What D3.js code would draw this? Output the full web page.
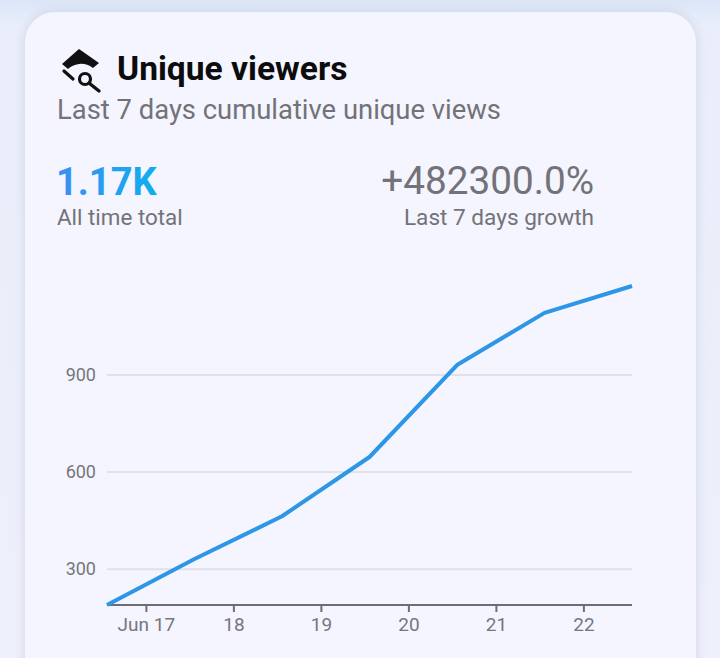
<!DOCTYPE html>
<html>
<head>
<meta charset="utf-8">
<script src="https://cdn.jsdelivr.net/npm/d3@7"></script>
<style>
  html, body { margin: 0; padding: 0; background: #eef0fb; }
  svg { display: block; font-family: Roboto, "Noto Sans", sans-serif; }
</style>
</head>
<body>
<script>
// data
var dates = ["2024-06-16T13:20", "2024-06-17T13:20", "2024-06-18T13:20", "2024-06-19T13:20",
             "2024-06-20T13:20", "2024-06-21T13:20", "2024-06-22T13:20"];
var viewers = [188, 330, 462, 645, 929, 1090, 1173];
var yTicks = [300, 600, 900];
var title = "Unique viewers";
var subtitle = "Last 7 days cumulative unique views";
var totalLabel = "1.17K", totalCaption = "All time total";
var growthLabel = "+482300.0%", growthCaption = "Last 7 days growth";

var parse = d3.timeParse("%Y-%m-%dT%H:%M");
var data = dates.map((d, i) => ({date: parse(d), value: viewers[i]}));

var width = 720, height = 658;
var margin = {top: 286, right: 88, bottom: 53, left: 107};

const svg = d3.select("body").append("svg")
    .attr("width", width)
    .attr("height", height);

var defs = svg.append("defs");
var bgGrad = defs.append("linearGradient").attr("id", "bg").attr("x1", 0).attr("y1", 0).attr("x2", 0).attr("y2", 1);
bgGrad.append("stop").attr("offset", "0").attr("stop-color", "#dbe6f7");
bgGrad.append("stop").attr("offset", "0.04").attr("stop-color", "#eaeefa");
bgGrad.append("stop").attr("offset", "1").attr("stop-color", "#eef0fb");
var numGrad = defs.append("linearGradient").attr("id", "num").attr("x1", 0).attr("y1", 0).attr("x2", 1).attr("y2", 0);
numGrad.append("stop").attr("offset", "0").attr("stop-color", "#3d8ef2");
numGrad.append("stop").attr("offset", "1").attr("stop-color", "#10aeec");
var shadow = defs.append("filter").attr("id", "shadow").attr("x", "-10%").attr("y", "-10%").attr("width", "120%").attr("height", "120%");
shadow.append("feDropShadow").attr("dx", 0).attr("dy", 0).attr("stdDeviation", 6)
    .attr("flood-color", "#b8bdd6").attr("flood-opacity", 0.55);

svg.append("rect").attr("width", width).attr("height", height).attr("fill", "url(#bg)");

// card
svg.append("rect")
    .attr("x", 25).attr("y", 12)
    .attr("width", 671).attr("height", 700)
    .attr("rx", 30)
    .attr("fill", "#f4f5fe")
    .attr("filter", "url(#shadow)");

// header icon
var icon = svg.append("g").attr("fill", "#111").attr("stroke", "#111");
icon.append("path")
    .attr("stroke", "none")
    .attr("d", "M79,49 L99,63 L93,68 Q86,63 79,64 Q72,65 68,69 L62,64 Z");
icon.append("line").attr("x1", 64).attr("y1", 71).attr("x2", 73).attr("y2", 79)
    .attr("stroke-width", 3.2).attr("stroke-linecap", "round");
icon.append("circle").attr("cx", 85).attr("cy", 79).attr("r", 5.5)
    .attr("fill", "none").attr("stroke-width", 3.2);
icon.append("line").attr("x1", 89).attr("y1", 83).attr("x2", 99).attr("y2", 91)
    .attr("stroke-width", 3.4).attr("stroke-linecap", "round");

svg.append("text").attr("x", 117).attr("y", 80)
    .attr("font-size", 33.6).attr("font-weight", 700).attr("fill", "#0c0c0c")
    .text(title);
svg.append("text").attr("x", 57).attr("y", 119)
    .attr("font-size", 27.4).attr("fill", "#737279")
    .text(subtitle);

svg.append("text").attr("x", 56).attr("y", 195)
    .attr("font-size", 38).attr("font-weight", 700).attr("fill", "url(#num)")
    .text(totalLabel);
svg.append("text").attr("x", 57).attr("y", 225)
    .attr("font-size", 22.4).attr("fill", "#737279")
    .text(totalCaption);
svg.append("text").attr("x", 594).attr("y", 194)
    .attr("text-anchor", "end")
    .attr("font-size", 38.7).attr("fill", "#737279")
    .text(growthLabel);
svg.append("text").attr("x", 594).attr("y", 225)
    .attr("text-anchor", "end")
    .attr("font-size", 22.6).attr("fill", "#737279")
    .text(growthCaption);

// scales
var xScale = d3.scaleTime()
    .domain(d3.extent(data, d => d.date))
    .range([margin.left, width - margin.right]);
var yScale = d3.scaleLinear()
    .domain(d3.extent(data, d => d.value))
    .range([height - margin.bottom, margin.top]);

// grid + y labels
var yAxis = g => g
    .attr("transform", `translate(${margin.left},0)`)
    .call(d3.axisLeft(yScale).tickValues(yTicks).tickSize(-(width - margin.right - margin.left)).tickPadding(11))
    .call(g => g.select(".domain").remove())
    .call(g => g.selectAll(".tick line").attr("stroke", "#e1e1e7").attr("stroke-width", 2))
    .call(g => g.selectAll(".tick text").attr("fill", "#77767d").attr("font-size", 18)
        .attr("font-family", "Roboto, sans-serif"));
svg.append("g").call(yAxis);

// x axis
var fmt = d3.timeFormat("%-d"), fmtFirst = d3.timeFormat("%b %-d");
var xAxis = g => g
    .attr("transform", `translate(0,${height - margin.bottom})`)
    .call(d3.axisBottom(xScale).ticks(d3.timeDay.every(1)).tickSize(7).tickPadding(6)
        .tickFormat((d, i) => i === 0 ? fmtFirst(d) : fmt(d)))
    .call(g => g.select(".domain").attr("stroke", "#6d6d72").attr("stroke-width", 2)
        .attr("d", `M${margin.left},0H${width - margin.right}`))
    .call(g => g.selectAll(".tick line").attr("stroke", "#6d6d72").attr("stroke-width", 2))
    .call(g => g.selectAll(".tick text").attr("fill", "#77767d").attr("font-size", 19)
        .attr("font-family", "Roboto, sans-serif"));
svg.append("g").call(xAxis);

// line
var line = d3.line()
    .x(d => xScale(d.date))
    .y(d => yScale(d.value));
svg.append("path")
    .datum(data)
    .attr("fill", "none")
    .attr("stroke", "#2e96e6")
    .attr("stroke-width", 4)
    .attr("stroke-linejoin", "round")
    .attr("d", line);
</script>
</body>
</html>
